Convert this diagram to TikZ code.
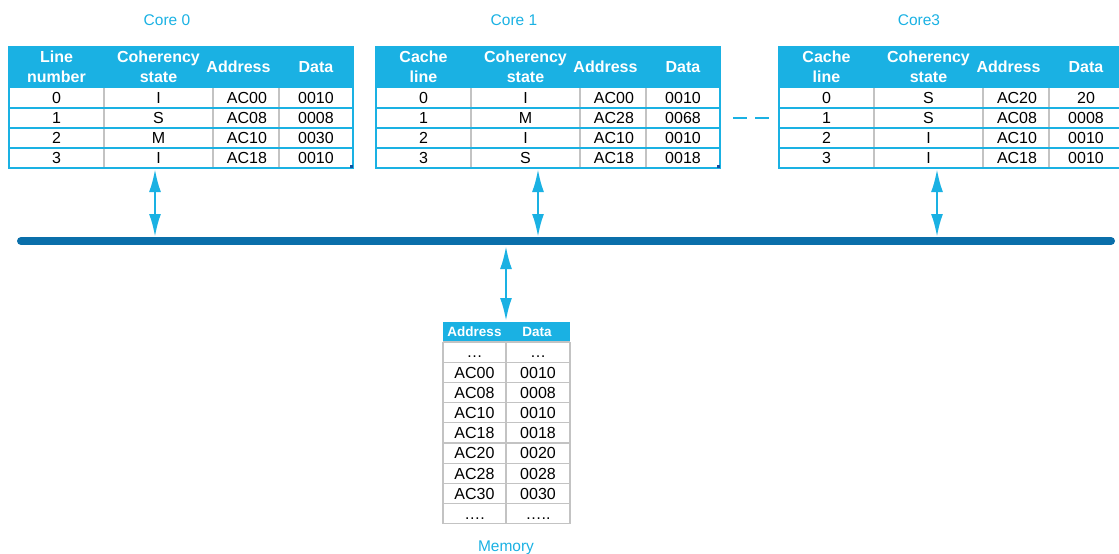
\documentclass[tikz,border=0pt]{standalone}
\usepackage{fontspec}
\setmainfont{Liberation Sans}
\usetikzlibrary{arrows.meta}
\definecolor{cyanhd}{RGB}{26,177,227}
\definecolor{busblue}{RGB}{10,111,170}
\definecolor{gridgray}{RGB}{195,195,195}
\definecolor{cornerblue}{RGB}{20,80,160}
\tikzset{
  hdr/.style={fill=cyanhd},
  hd/.style={text=white, font=\fontsize{16}{20}\selectfont\bfseries, align=center, inner sep=0pt},
  mhd/.style={text=white, font=\fontsize{13.5}{15}\selectfont\bfseries, inner sep=0pt, text height=9.7pt, text depth=0pt},
  cell/.style={text=black, font=\fontsize{16}{18}\selectfont, inner sep=0pt, text height=11.5pt, text depth=0pt},
  vgrid/.style={draw=gridgray, line width=1.2pt},
  hgrid/.style={draw=cyanhd, line width=1.3pt},
  mgrid/.style={draw=gridgray, line width=1.2pt},
  tborder/.style={draw=cyanhd, line width=1.5pt},
  lbl/.style={text=cyanhd, font=\fontsize{15.5}{17}\selectfont, inner sep=0pt, text height=11pt, text depth=0pt},
  bus/.style={draw=busblue, line width=8pt, line cap=round},
  biarrow/.style={draw=cyanhd, line width=2.5pt, {Latex[length=23pt,width=12pt]}-{Latex[length=23pt,width=12pt]}},
  dashline/.style={draw=cyanhd, line width=1.5pt, dash pattern=on 14pt off 8pt},
}
\newcommand{\CoreTbl}[4]{%
  \begin{scope}[shift={(#2,0)}]
    \fill[hdr] (0,47) rectangle (344,88);
    \node[hd] (#1-h1) at (47.5,67) {#3};
    \node[hd] (#1-h2) at (149.5,67) {Coherency\\state};
    \node[hd] (#1-h3) at (229.5,67) {Address};
    \node[hd] (#1-h4) at (307,67) {Data};
    \foreach \x in {95,204,270} \draw[vgrid] (\x,88) -- (\x,168);
    \foreach \y in {108,128,148} \draw[hgrid] (0,\y) -- (344,\y);
    \draw[tborder] (0,47) rectangle (344,168);
    \foreach \a/\b/\c/\d [count=\i] in {#4} {
      \node[cell] (#1-r\i-1) at (47.5,78+20*\i) {\a};
      \node[cell] (#1-r\i-2) at (149.5,78+20*\i) {\b};
      \node[cell] (#1-r\i-3) at (238,78+20*\i) {\c};
      \node[cell] (#1-r\i-4) at (307,78+20*\i) {\d};
    }
  \end{scope}}
\begin{document}
\begin{tikzpicture}[x=1pt,y=-1pt]
\useasboundingbox (0,0) rectangle (1119,554);

% labels
\node[lbl] (core0) at (167,20) {Core 0};
\node[lbl] (core1) at (514,20) {Core 1};
\node[lbl] (core3) at (919,20) {Core3};

% core tables
\CoreTbl{c0}{9}{Line\\number}{0/I/AC00/0010,1/S/AC08/0008,2/M/AC10/0030,3/I/AC18/0010}
\CoreTbl{c1}{376}{Cache\\line}{0/I/AC00/0010,1/M/AC28/0068,2/I/AC10/0010,3/S/AC18/0018}
\CoreTbl{c3}{779}{Cache\\line}{0/S/AC20/20,1/S/AC08/0008,2/I/AC10/0010,3/I/AC18/0010}

% small corner marks
\fill[cornerblue] (349.5,164.5) rectangle (352.5,167.5);
\fill[cornerblue] (716.5,164.5) rectangle (719.5,167.5);

% dashes between core 1 and core 3
\coordinate (dashA) at (733,118);
\coordinate (dashB) at (769,118);
\draw[dashline] (dashA) -- (dashB);

% bus
\coordinate (busL) at (21,241);
\coordinate (busR) at (1111,241);
\draw[bus] (busL) -- (busR);

% arrows
\coordinate (a0t) at (155,169);
\coordinate (a0b) at (155,237);
\coordinate (a1t) at (538,169);
\coordinate (a1b) at (538,237);
\coordinate (a3t) at (937,169);
\coordinate (a3b) at (937,237);
\coordinate (amt) at (506,246);
\coordinate (amb) at (506,321);
\draw[biarrow] (a0t) -- (a0b);
\draw[biarrow] (a1t) -- (a1b);
\draw[biarrow] (a3t) -- (a3b);
\draw[biarrow] (amt) -- (amb);

% memory table
\fill[hdr] (443,322) rectangle (570,342);
\node[mhd] (mh1) at (474.5,332) {Address};
\node[mhd] (mh2) at (537,332) {Data};
\foreach \k in {0,...,9} \draw[mgrid] (443,342+20.2*\k) -- (570,342+20.2*\k);
\foreach \x in {443,506,570} \draw[mgrid] (\x,342) -- (\x,524);
\foreach \a/\d [count=\i] in {\ldots/\ldots,AC00/0010,AC08/0008,AC10/0010,AC18/0018,AC20/0020,AC28/0028,AC30/0030,{\ldots.}/{\ldots..}} {
  \node[cell] (m\i-1) at (474.5,331.9+20.2*\i) {\a};
  \node[cell] (m\i-2) at (538,331.9+20.2*\i) {\d};
}
\node[lbl] (memlbl) at (506,546) {Memory};
\end{tikzpicture}
\end{document}
